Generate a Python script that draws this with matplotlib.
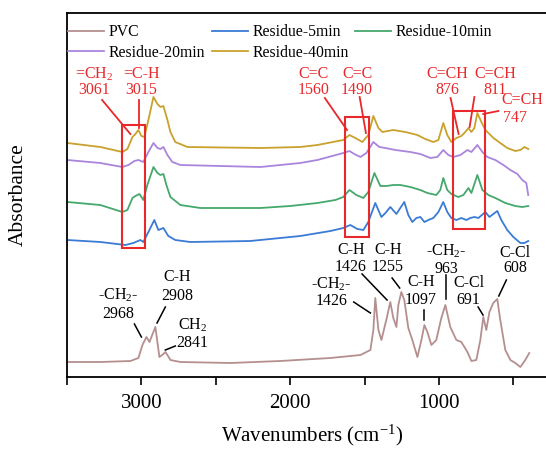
import numpy as np
import matplotlib.pyplot as plt
from matplotlib.patches import Rectangle
from matplotlib.ticker import MultipleLocator, NullFormatter

plt.rcParams['font.family'] = ['Liberation Serif', 'DejaVu Serif']
plt.rcParams['mathtext.default'] = 'regular'

# Spectra (wavenumber, offset absorbance in arbitrary units)
pvc_wn = [3497, 3276, 3074, 3020, 2993, 2966, 2946, 2906, 2879, 2852, 2839, 2825, 2805,
          2738, 2402, 2066, 1730, 1528, 1461, 1441, 1428, 1407, 1387, 1354, 1327, 1307,
          1286, 1273, 1253, 1233, 1206, 1179, 1145, 1118, 1098, 1078, 1051, 1018, 984,
          957, 924, 883, 850, 829, 809, 782, 749, 722, 702, 682, 661, 635, 608, 588,
          554, 520, 487, 453, 420, 393]
pvc_ab = [15, 15, 16, 19, 32, 40, 35, 50, 20, 23, 25, 22, 17,
          15, 14, 16, 19, 22, 27, 47, 79, 47, 37, 57, 75, 59,
          50, 72, 85, 77, 49, 37, 20, 37, 52, 45, 32, 37, 59,
          72, 50, 37, 35, 30, 25, 16, 17, 37, 60, 47, 65, 74, 78, 57,
          27, 17, 14, 10, 17, 24]

r5_wn = [3497, 3276, 3108, 3054, 3007, 2987, 2953, 2913, 2886, 2852, 2819, 2772, 2671,
         2268, 1932, 1730, 1643, 1596, 1548, 1508, 1475, 1428, 1387, 1360, 1327, 1286,
         1260, 1233, 1206, 1179, 1152, 1125, 1098, 1071, 1038, 1004, 971, 944, 917, 883,
         850, 816, 789, 762, 735, 688, 661, 608, 581, 541, 500, 453, 426, 400]
r5_ab = [137, 135, 132, 134, 137, 135, 145, 157, 147, 149, 141, 137, 135,
         136, 141, 146, 149, 152, 148, 147, 155, 174, 160, 164, 170, 163,
         169, 175, 162, 155, 159, 160, 155, 157, 159, 165, 175, 165, 159, 157,
         159, 157, 159, 160, 159, 165, 160, 166, 157, 147, 140, 134, 134, 136]

r10_wn = [3497, 3276, 3128, 3094, 3060, 3040, 3013, 2987, 2960, 2919, 2892, 2872, 2852,
          2832, 2805, 2738, 2604, 2200, 1999, 1817, 1696, 1643, 1602, 1555, 1508, 1475,
          1434, 1394, 1354, 1307, 1260, 1192, 1125, 1078, 1018, 991, 971, 944, 917, 870,
          836, 802, 782, 742, 708, 668, 621, 554, 487, 440, 400]
r10_ab = [175, 172, 165, 167, 179, 181, 183, 177, 192, 210, 204, 202, 203,
          192, 180, 172, 169, 169, 171, 174, 177, 180, 187, 182, 179, 185,
          204, 191, 191, 192, 192, 190, 187, 184, 182, 187, 199, 187, 183, 180,
          182, 189, 184, 202, 187, 182, 179, 174, 171, 170, 171]

r20_wn = [3497, 3276, 3128, 3087, 3047, 3020, 2987, 2953, 2919, 2892, 2872, 2852, 2825,
          2792, 2738, 2200, 1932, 1817, 1643, 1602, 1569, 1528, 1488, 1441, 1401, 1360,
          1293, 1192, 1125, 1058, 1011, 971, 937, 903, 856, 809, 782, 742, 708, 675, 621,
          567, 520, 473, 440, 413, 400]
r20_ab = [217, 214, 210, 212, 216, 217, 215, 225, 234, 229, 228, 230, 222,
          215, 212, 210, 214, 217, 224, 226, 223, 220, 224, 235, 230, 229,
          227, 225, 223, 219, 220, 227, 222, 220, 222, 227, 225, 232, 225, 220, 217,
          212, 207, 203, 197, 194, 182]

r40_wn = [3497, 3276, 3128, 3094, 3060, 3040, 3020, 3000, 2980, 2953, 2919, 2892, 2872,
          2852, 2825, 2805, 2772, 2691, 2200, 1932, 1817, 1643, 1602, 1562, 1515, 1475,
          1441, 1407, 1380, 1307, 1226, 1145, 1092, 1038, 1004, 971, 944, 917, 883, 850,
          823, 802, 782, 762, 742, 715, 688, 634, 588, 541, 487, 453, 426, 400]
r40_ab = [234, 230, 225, 228, 240, 243, 247, 241, 240, 257, 280, 273, 270,
          271, 257, 245, 235, 230, 229, 230, 232, 237, 242, 239, 235, 242,
          261, 249, 245, 247, 245, 242, 238, 235, 237, 254, 242, 235, 239, 241,
          245, 249, 245, 249, 264, 255, 247, 239, 234, 229, 226, 227, 230, 228]

series_labels = ['PVC', 'Residue-5min', 'Residue-10min', 'Residue-20min', 'Residue-40min']
series_colors = ['#b58f8f', '#3a7bd5', '#45a86c', '#a985dc', '#c9a12c']

# Red boxes: (wn_high, wn_low, ab_low, ab_high)
boxes = [(3130, 2973, 129, 252), (1629, 1472, 140, 260), (905, 693, 148, 266)]

# Red labels: (line1, line2, x, y1, y2, leader from, leader to)
red_notes = [
    ('=CH$_2$', '3061', 3320, 303, 287, (3264, 277), (3074, 243)),
    ('=C-H', '3015', 3000, 303, 287, (3018, 277), (3018, 249)),
    ('C=C', '1560', 1842, 303, 287, (1767, 279), (1618, 247)),
    ('C=C', '1490', 1550, 303, 287, (1533, 280), (1491, 244)),
    ('C=CH', '876', 946, 303, 287, (922, 279), (868, 243)),
    ('C=CH', '811', 621, 303, 287, (762, 280), (794, 250)),
]
black_notes = [
    ('-CH$_2$-', '2968', 3153, 82, 63, (3047, 53), (3000, 40)),
    ('C-H', '2908', 2760, 100, 81, (2839, 70), (2895, 54)),
    ('CH$_2$', '2841', 2659, 52, 34, (2772, 31), (2839, 27)),
    ('-CH$_2$-', '1426', 1725, 93, 76, (1573, 75), (1461, 64)),
    ('C-H', '1426', 1591, 127, 110, (1517, 103), (1349, 77)),
    ('C-H', '1255', 1343, 127, 110, (1315, 99), (1264, 89)),
    ('C-H', '1097', 1122, 95, 77, (1103, 67), (1103, 57)),
    ('-CH$_2$-', '963', 950, 126, 108, (950, 102), (950, 78)),
    ('C-Cl', '691', 800, 94, 77, (737, 70), (704, 62)),
    ('C-Cl', '608', 490, 124, 109, (547, 97), (598, 81)),
]

red = '#e8282a'

fig = plt.figure(figsize=(5.46, 4.5), dpi=100)
ax = fig.add_axes([67 / 546, 73 / 450, 491 / 546, 364 / 450])

data = [(pvc_wn, pvc_ab), (r5_wn, r5_ab), (r10_wn, r10_ab), (r20_wn, r20_ab), (r40_wn, r40_ab)]
lines = []
for (wn, ab), lab, col in zip(data, series_labels, series_colors):
    ln, = ax.plot(wn, ab, color=col, lw=1.3, label=lab)
    lines.append(ln)

for x1, x0, y0, y1 in boxes:
    ax.add_patch(Rectangle((x0, y0), x1 - x0, y1 - y0, fill=False, ec=red, lw=1.5, zorder=5))

for t1, t2, x, y1, y2, p0, p1 in red_notes:
    ax.text(x, y1, t1, color=red, fontsize=11.5, ha='center', va='center')
    ax.text(x, y2, t2, color=red, fontsize=11.5, ha='center', va='center')
    ax.plot([p0[0], p1[0]], [p0[1], p1[1]], color=red, lw=1.3)

# 747 label sits to the right
ax.text(440, 277, 'C=CH', color=red, fontsize=11.5, ha='center', va='center', clip_on=False)
ax.text(487, 259, '747', color=red, fontsize=11.5, ha='center', va='center')
ax.plot([601, 702], [266, 263], color=red, lw=1.3)

for t1, t2, x, y1, y2, p0, p1 in black_notes:
    ax.text(x, y1, t1, color='black', fontsize=11.5, ha='center', va='center')
    ax.text(x, y2, t2, color='black', fontsize=11.5, ha='center', va='center')
    ax.plot([p0[0], p1[0]], [p0[1], p1[1]], color='black', lw=1.1)

ax.set_xlim(3500, 200)
ax.set_ylim(0, 364)
ax.xaxis.set_major_locator(MultipleLocator(1000))
ax.xaxis.set_minor_locator(MultipleLocator(500))
ax.xaxis.set_minor_formatter(NullFormatter())
ax.tick_params(axis='x', which='both', direction='out', length=6, width=1.2, labelsize=15, pad=6)
ax.tick_params(axis='y', left=False, labelleft=False)
for s in ax.spines.values():
    s.set_linewidth(1.3)

ax.set_xlabel('Wavenumbers (cm$^{-1}$)', fontsize=15, labelpad=7)
ax.set_ylabel('Absorbance', fontsize=15.5, labelpad=28)

order = [0, 3, 1, 4, 2]
ax.legend([lines[i] for i in order], [series_labels[i] for i in order], ncol=3, frameon=False,
          fontsize=11.3, loc='upper left', bbox_to_anchor=(68 / 546, 1 - 24 / 450),
          bbox_transform=fig.transFigure, borderaxespad=0, borderpad=0,
          handlelength=2.3, handletextpad=0.3, columnspacing=0.4, labelspacing=0.3)

fig.savefig('out.png', dpi=100)
